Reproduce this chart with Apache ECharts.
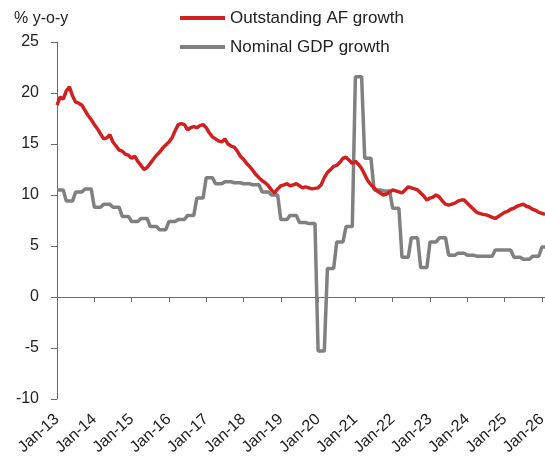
<!DOCTYPE html>
<html>
<head>
<meta charset="utf-8">
<script src="https://cdn.jsdelivr.net/npm/echarts@6/dist/echarts.min.js"></script>
<style>
html,body{margin:0;padding:0;background:#fff;}
#chart{width:545px;height:461px;}
</style>
</head>
<body>
<div id="chart"></div>
<script>
// ---- data ----
var years = ['13','14','15','16','17','18','19','20','21','22','23','24','25','26'];
var monthNames = ['Jan','Feb','Mar','Apr','May','Jun','Jul','Aug','Sep','Oct','Nov','Dec'];
var lastYearMonths = 2; // Jan-26, Feb-26

var afGrowth = [
  18.8,19.6,19.4,20.2,20.6,19.7,19.1,19.0,18.8,18.3,17.8,17.4,
  16.9,16.5,16.0,15.5,15.6,15.9,15.2,14.8,14.4,14.3,14.0,13.9,
  13.6,13.8,13.3,12.9,12.5,12.7,13.1,13.5,13.9,14.2,14.6,14.9,
  15.2,15.6,16.3,16.9,17.0,16.9,16.4,16.6,16.7,16.6,16.8,16.9,
  16.6,16.1,15.7,15.5,15.3,15.2,15.5,15.0,14.8,14.7,14.3,13.8,
  13.5,13.1,12.8,12.4,12.0,11.7,11.4,11.2,10.9,10.5,10.2,10.6,
  10.9,11.0,11.1,10.9,11.0,11.1,10.9,10.7,10.8,10.7,10.6,10.65,
  10.7,11.0,11.7,12.2,12.5,12.8,12.9,13.2,13.6,13.7,13.4,13.1,
  13.3,13.0,12.6,12.0,11.4,11.0,10.7,10.4,10.2,10.0,10.1,10.3,
  10.5,10.4,10.3,10.2,10.5,10.8,10.7,10.6,10.5,10.2,9.9,9.5,
  9.7,9.8,10.0,9.8,9.4,9.1,9.0,9.1,9.2,9.4,9.5,9.5,
  9.2,8.9,8.6,8.3,8.2,8.1,8.05,7.95,7.8,7.7,7.9,8.1,
  8.3,8.4,8.6,8.7,8.9,9.0,9.1,8.9,8.8,8.6,8.5,8.3,
  8.2,8.1
];

var gdpGrowth = [
  10.5,10.5,10.5, 9.4,9.4,9.4, 10.3,10.3,10.3, 10.6,10.6,10.6,
  8.8,8.8,8.8, 9.1,9.1,9.1, 8.8,8.8,8.8, 7.9,7.9,7.9,
  7.4,7.4,7.4, 7.7,7.7,7.7, 6.9,6.9,6.9, 6.6,6.6,6.6,
  7.4,7.4,7.4, 7.6,7.6,7.6, 8.0,8.0,8.0, 9.7,9.7,9.7,
  11.7,11.7,11.7, 11.1,11.1,11.1, 11.3,11.3,11.3, 11.2,11.2,11.2,
  11.1,11.1,11.1, 11.0,11.0,11.0, 10.3,10.3,10.3, 10.0,10.0,10.0,
  7.6,7.6,7.6, 8.0,8.0,8.0, 7.3,7.3,7.3, 7.2,7.2,7.2,
  -5.3,-5.3,-5.3, 2.8,2.8,2.8, 5.4,5.4,5.4, 6.9,6.9,6.9,
  21.6,21.6,21.6, 13.6,13.6,13.6, 10.5,10.5,10.5, 10.4,10.4,10.4,
  8.7,8.7,8.7, 3.9,3.9,3.9, 5.8,5.8,5.8, 2.9,2.9,2.9,
  5.4,5.4,5.4, 5.8,5.8,5.8, 4.1,4.1,4.1, 4.3,4.3,4.3,
  4.1,4.1,4.1, 4.0,4.0,4.0, 4.0,4.0,4.0, 4.6,4.6,4.6,
  4.6,4.6,4.6, 3.9,3.9,3.9, 3.7,3.7,3.7, 4.0,4.0,4.0,
  4.9,4.9
];

var yTicks = {min: -10, max: 25, interval: 5};
var seriesNames = ['Outstanding AF growth', 'Nominal GDP growth'];
var yUnit = '% y-o-y';

// ---- categories ----
var categories = [];
for (var yi = 0; yi < years.length; yi++) {
  var nm = (yi === years.length - 1) ? lastYearMonths : 12;
  for (var mi = 0; mi < nm; mi++) categories.push(monthNames[mi] + '-' + years[yi]);
}

var FONT = '"Liberation Sans", Arial, Helvetica, sans-serif';
var TXT = '#222';
var AX = '#6a6a6a';
var RED = '#d0201f';
var GREY = '#808080';

var chart = echarts.init(document.getElementById('chart'), null, {renderer: 'canvas'});
var isJan = function (idx) { return idx % 12 === 0; };

chart.setOption({
  animation: false,
  backgroundColor: '#fff',
  textStyle: {fontFamily: FONT},
  title: {
    text: yUnit, left: 9, top: 6,
    textStyle: {fontFamily: FONT, fontSize: 16, fontWeight: 'normal', color: TXT}
  },
  legend: {
    orient: 'vertical', left: 180, top: 8, itemGap: 9, padding: 0,
    itemWidth: 45, itemHeight: 4, icon: 'rect',
    textStyle: {fontFamily: FONT, fontSize: 17, color: TXT, lineHeight: 20},
    data: [
      {name: seriesNames[0], itemStyle: {color: RED}},
      {name: seriesNames[1], itemStyle: {color: GREY}}
    ]
  },
  grid: {left: 57, right: 0, top: 42, bottom: 62, containLabel: false, outerBoundsMode: 'none'},
  xAxis: [
    {
      type: 'category', data: categories, boundaryGap: false, position: 'bottom',
      axisLine: {show: false, onZero: false},
      axisTick: {show: false},
      axisLabel: {
        interval: function (idx) { return isJan(idx); },
        rotate: 42, margin: 18, fontFamily: FONT, fontSize: 16, color: TXT
      },
      splitLine: {show: false}
    },
    {
      type: 'category', data: categories, boundaryGap: false, position: 'top',
      axisLine: {show: true, onZero: true, lineStyle: {color: AX, width: 1}},
      axisTick: {show: true, inside: true, length: 5, interval: function (idx) { return isJan(idx); }, lineStyle: {color: AX}},
      axisLabel: {show: false},
      splitLine: {show: false}
    }
  ],
  yAxis: {
    type: 'value', min: yTicks.min, max: yTicks.max, interval: yTicks.interval,
    axisLine: {show: true, lineStyle: {color: AX, width: 1}},
    axisTick: {show: true, inside: false, length: 6, lineStyle: {color: AX}},
    axisLabel: {margin: 18, fontFamily: FONT, fontSize: 16, color: TXT},
    splitLine: {show: false}
  },
  series: [
    {
      name: seriesNames[0], type: 'line', data: afGrowth, xAxisIndex: 0,
      symbol: 'none', z: 4,
      lineStyle: {color: RED, width: 3.5},
      itemStyle: {color: RED}
    },
    {
      name: seriesNames[1], type: 'line', data: gdpGrowth, xAxisIndex: 0,
      symbol: 'none', z: 3,
      lineStyle: {color: GREY, width: 3.5},
      itemStyle: {color: GREY}
    }
  ]
});
</script>
</body>
</html>
